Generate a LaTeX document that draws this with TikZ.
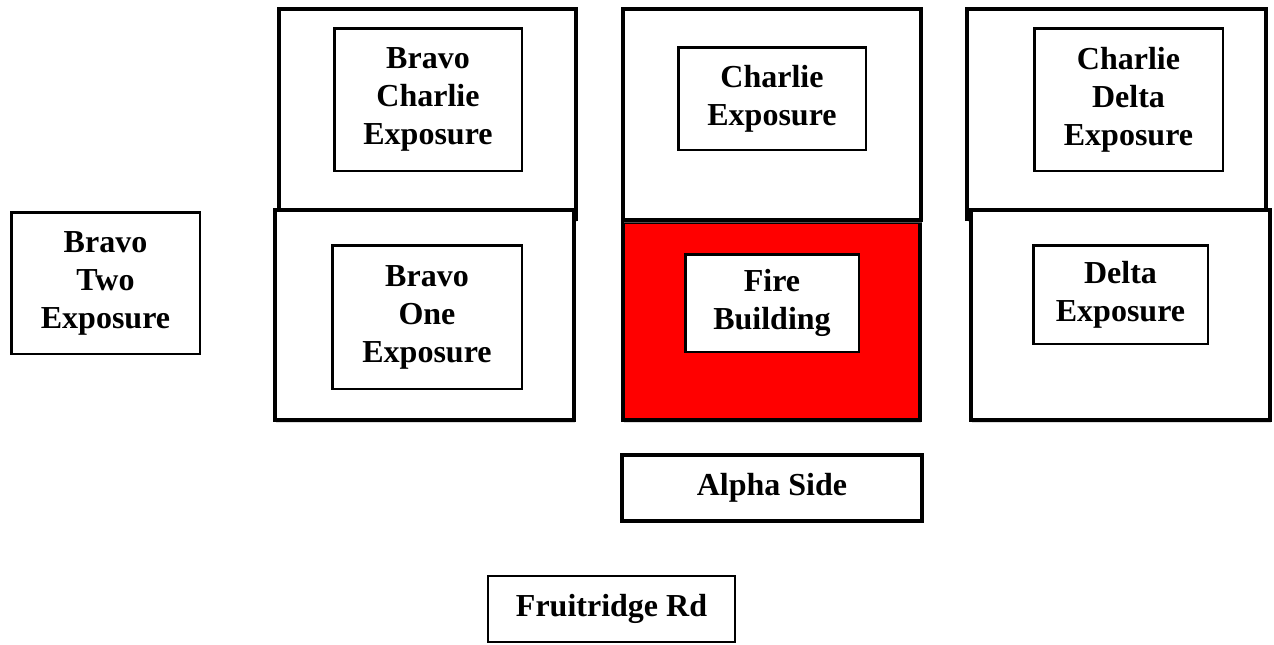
\documentclass[tikz,border=0pt]{standalone}
\usepackage{fontspec}
\setmainfont{Liberation Serif}
\usetikzlibrary{shadows}
\definecolor{firered}{RGB}{255,0,0}
\begin{document}
\begin{tikzpicture}[x=1pt,y=-1pt,
  lbl/.style={font=\fontsize{32}{38}\selectfont\bfseries, align=center, inner sep=0pt, outer sep=0pt},
  outerbox/.style={draw=black, line width=4pt, fill=white, inner sep=0pt, outer sep=0pt,
     drop shadow={shadow xshift=0.5pt, shadow yshift=-2.5pt, fill=black!30, opacity=0.45}},
  innerbox/.style={lbl, draw=black, line width=2.5pt, fill=white},
  plainbox/.style={lbl, draw=black, fill=white}
]
\useasboundingbox (0,0) rectangle (1274,645);
\fill[white] (0,0) rectangle (1274,645);

% top row
\node[outerbox, minimum width=297pt, minimum height=210pt] (bcout) at (427.5,114) {};
\node[outerbox, minimum width=299pt, minimum height=210pt] (cdout) at (1116.5,114) {};

% middle row
\node[outerbox, minimum width=299pt, minimum height=210pt] (b1out) at (424.5,315) {};
\node[outerbox, fill=firered, minimum width=297pt, minimum height=198pt] (fire) at (771.5,321) {};
\node[outerbox, minimum width=299pt, minimum height=210pt] (deltaout) at (1120.5,315) {};
\node[outerbox, minimum width=298pt, minimum height=211pt] (chout) at (772,114.5) {};

% inner boxes
\node[innerbox, minimum width=187.5pt, minimum height=142.5pt] (bcin) at (428,99.5) {Bravo\\Charlie\\Exposure};
\node[innerbox, minimum width=187.5pt, minimum height=102.5pt] (chin) at (772,98.5) {Charlie\\Exposure};
\node[innerbox, minimum width=188.5pt, minimum height=142.5pt] (cdin) at (1128.5,99.5) {Charlie\\Delta\\Exposure};
\node[innerbox, minimum width=189.5pt, minimum height=143.5pt] (b1in) at (427,317) {Bravo\\One\\Exposure};
\node[innerbox, minimum width=173.5pt, minimum height=97.5pt] (firein) at (772,303) {Fire\\Building};
\node[innerbox, minimum width=174.5pt, minimum height=98.5pt] (deltain) at (1120.5,294.5) {Delta\\Exposure};

% left box
\node[plainbox, line width=2.5pt, minimum width=188.5pt, minimum height=141.5pt] (b2) at (105.5,283) {Bravo\\Two\\Exposure};

% bottom labels
\node[plainbox, line width=4pt, minimum width=300pt, minimum height=66pt] (alpha) at (772,488) {Alpha Side};
\node[plainbox, line width=2pt, minimum width=247pt, minimum height=66pt] (road) at (611.5,609) {Fruitridge Rd};
\end{tikzpicture}
\end{document}
